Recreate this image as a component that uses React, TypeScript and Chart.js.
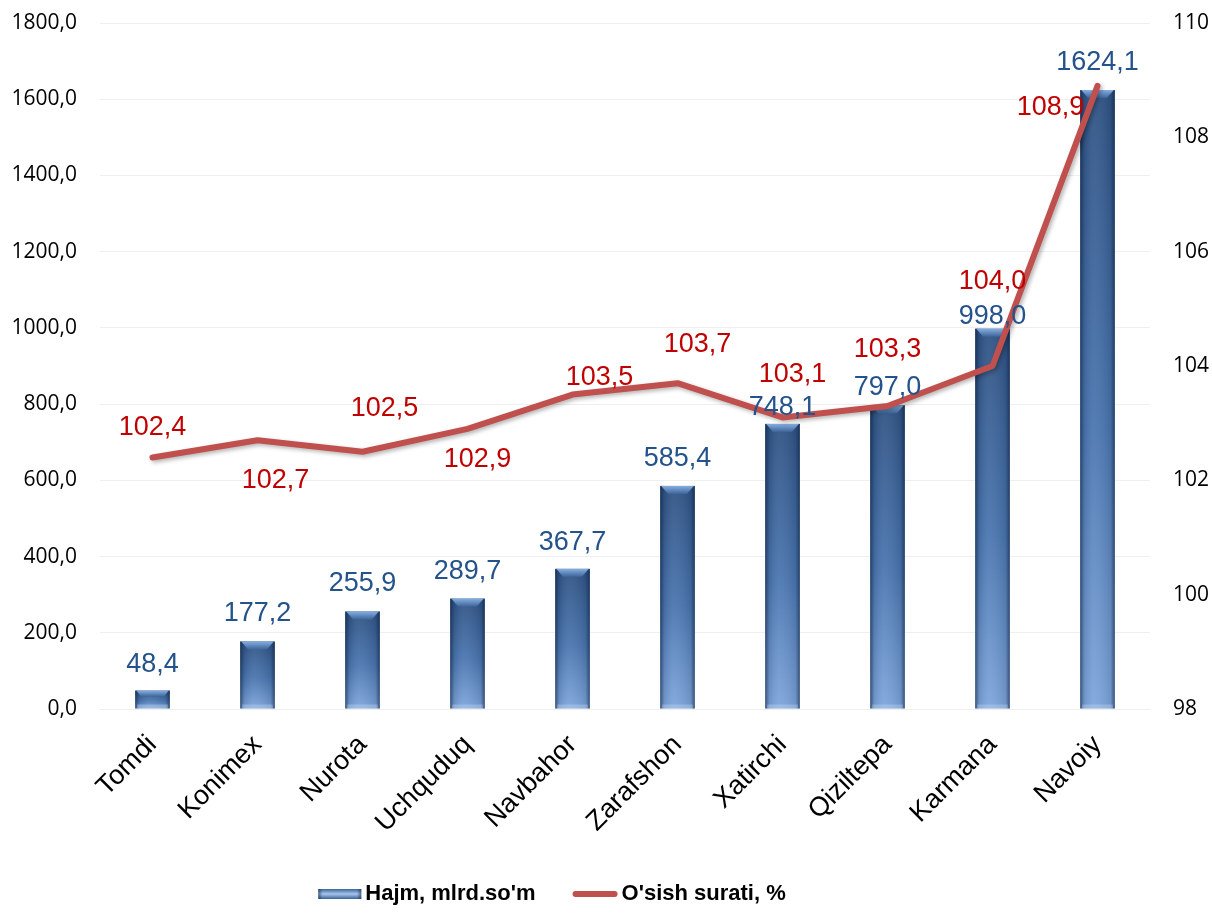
import React, { useEffect, useRef } from 'react';
import { Chart, registerables } from 'chart.js';

Chart.register(...registerables);

const categories = ['Tomdi', 'Konimex', 'Nurota', 'Uchquduq', 'Navbahor', 'Zarafshon', 'Xatirchi', 'Qiziltepa', 'Karmana', 'Navoiy'];
const volumeValues = [48.4, 177.2, 255.9, 289.7, 367.7, 585.4, 748.1, 797.0, 998.0, 1624.1];
const growthValues = [102.4, 102.7, 102.5, 102.9, 103.5, 103.7, 103.1, 103.3, 104.0, 108.9];
const seriesNames = ["Hajm, mlrd.so'm", "O'sish surati, %"];
const leftAxisRange = [0, 1800, 200];
const rightAxisRange = [98, 110, 2];

// label placement (pixel offsets from the mark)
const barLabelDy = [-26, -28, -28, -27, -26, -27, -16, -18, -12, -27];
const lineLabelOffsets = [[0, -30], [18, 40], [22, -43], [10, 31], [27, -17], [20, -39], [10, -43], [0, -56], [0, -84], [-47, 22]];

const fmt1 = (v: number) => v.toFixed(1).replace('.', ',');
const SANS = '"Liberation Sans", Arial, sans-serif';

function drawBar(ctx: CanvasRenderingContext2D, left: number, top: number, right: number, bottom: number) {
  const w = right - left;
  const h = bottom - top;
  if (h <= 0) return;
  ctx.save();
  const vg = ctx.createLinearGradient(0, top, 0, bottom);
  vg.addColorStop(0, '#2E5283');
  vg.addColorStop(0.55, '#4A76B0');
  vg.addColorStop(1, '#7EA6DC');
  ctx.fillStyle = vg;
  ctx.fillRect(left, top, w, h);
  const hg = ctx.createLinearGradient(left, 0, right, 0);
  hg.addColorStop(0, 'rgba(12,28,55,0.6)');
  hg.addColorStop(0.12, 'rgba(12,28,55,0.12)');
  hg.addColorStop(0.4, 'rgba(255,255,255,0.06)');
  hg.addColorStop(0.88, 'rgba(12,28,55,0.12)');
  hg.addColorStop(1, 'rgba(12,28,55,0.6)');
  ctx.fillStyle = hg;
  ctx.fillRect(left, top, w, h);
  const b = Math.min(8, h / 3);
  const bg = ctx.createLinearGradient(0, top, 0, top + b);
  bg.addColorStop(0, '#86AEE0');
  bg.addColorStop(1, '#3E659A');
  ctx.fillStyle = bg;
  ctx.beginPath();
  ctx.moveTo(left + 1, top);
  ctx.lineTo(right - 1, top);
  ctx.lineTo(right - b, top + b);
  ctx.lineTo(left + b, top + b);
  ctx.closePath();
  ctx.fill();
  const rb = Math.min(4, h / 4);
  ctx.fillStyle = 'rgba(200,220,245,0.35)';
  ctx.fillRect(left + 2, bottom - rb, w - 4, rb);
  ctx.restore();
}

const customPlugin = {
  id: 'customDraw',
  beforeDatasetDraw(chart: any, args: any) {
    const ctx = chart.ctx;
    if (args.index === 0) {
      const meta = chart.getDatasetMeta(0);
      meta.data.forEach((el: any) => {
        drawBar(ctx, el.x - el.width / 2, el.y, el.x + el.width / 2, el.base);
      });
      return false;
    }
    if (args.index === 1) {
      ctx.save();
      ctx.shadowColor = 'rgba(0,0,0,0.3)';
      ctx.shadowBlur = 4;
      ctx.shadowOffsetX = 2;
      ctx.shadowOffsetY = 2;
    }
    return true;
  },
  afterDatasetDraw(chart: any, args: any) {
    if (args.index === 1) chart.ctx.restore();
  },
  afterDatasetsDraw(chart: any) {
    const ctx = chart.ctx;
    ctx.save();
    ctx.textAlign = 'center';
    ctx.textBaseline = 'middle';
    ctx.font = `27px ${SANS}`;
    const lineMeta = chart.getDatasetMeta(1);
    ctx.fillStyle = '#C00000';
    lineMeta.data.forEach((el: any, i: number) => {
      const [dx, dy] = lineLabelOffsets[i];
      ctx.fillText(fmt1(growthValues[i]), el.x + dx, el.y + dy);
    });
    const barMeta = chart.getDatasetMeta(0);
    ctx.fillStyle = '#24528A';
    barMeta.data.forEach((el: any, i: number) => {
      ctx.fillText(fmt1(volumeValues[i]), el.x, el.y + barLabelDy[i]);
    });
    ctx.restore();
  },
  afterDraw(chart: any) {
    const ctx = chart.ctx;
    ctx.save();
    ctx.font = `bold 22px ${SANS}`;
    ctx.textBaseline = 'middle';
    ctx.textAlign = 'left';
    const w1 = ctx.measureText(seriesNames[0]).width;
    const w2 = ctx.measureText(seriesNames[1]).width;
    const boxW = 43, lineW = 45, gap = 4, between = 37;
    const total = boxW + gap + w1 + between + lineW + gap + w2;
    let x = chart.width / 2 - 54 - total / 2;
    const cy = chart.height - 21;
    const g = ctx.createLinearGradient(0, cy - 5, 0, cy + 5);
    g.addColorStop(0, '#3C6498');
    g.addColorStop(0.5, '#A6C6EC');
    g.addColorStop(1, '#3A6096');
    ctx.fillStyle = g;
    ctx.fillRect(x, cy - 5, boxW, 10);
    const hg = ctx.createLinearGradient(x, 0, x + boxW, 0);
    hg.addColorStop(0, 'rgba(20,40,70,0.6)');
    hg.addColorStop(0.1, 'rgba(20,40,70,0)');
    hg.addColorStop(0.9, 'rgba(20,40,70,0)');
    hg.addColorStop(1, 'rgba(20,40,70,0.6)');
    ctx.fillStyle = hg;
    ctx.fillRect(x, cy - 5, boxW, 10);
    x += boxW + gap;
    ctx.fillStyle = '#000000';
    ctx.fillText(seriesNames[0], x, cy);
    x += w1 + between;
    ctx.strokeStyle = '#C0504D';
    ctx.lineWidth = 6;
    ctx.lineCap = 'round';
    ctx.beginPath();
    ctx.moveTo(x + 3, cy);
    ctx.lineTo(x + lineW - 3, cy);
    ctx.stroke();
    x += lineW + gap;
    ctx.fillStyle = '#000000';
    ctx.fillText(seriesNames[1], x, cy);
    ctx.restore();
  },
};

export default function App() {
  const canvasRef = useRef<HTMLCanvasElement | null>(null);
  useEffect(() => {
    if (!canvasRef.current) return;
    const chart = new Chart(canvasRef.current, {
      type: 'bar',
      data: {
        labels: categories,
        datasets: [
          {
            type: 'bar',
            label: seriesNames[0],
            data: volumeValues,
            backgroundColor: '#4A76B0',
            yAxisID: 'y',
            order: 2,
            barPercentage: 0.33,
            categoryPercentage: 1,
          },
          {
            type: 'line',
            label: seriesNames[1],
            data: growthValues,
            borderColor: '#C0504D',
            backgroundColor: '#C0504D',
            borderWidth: 6,
            pointRadius: 0,
            tension: 0,
            borderCapStyle: 'round',
            borderJoinStyle: 'round',
            yAxisID: 'y2',
            order: 1,
          } as any,
        ],
      },
      options: {
        animation: false,
        responsive: false,
        maintainAspectRatio: false,
        layout: { padding: { top: 23, left: 0, right: 0, bottom: 60 } },
        plugins: {
          legend: { display: false },
          tooltip: { enabled: false },
        },
        scales: {
          x: {
            grid: { display: false, drawTicks: false },
            border: { display: false },
            ticks: {
              maxRotation: 45,
              minRotation: 45,
              autoSkip: false,
              padding: 20,
              color: '#000000',
              font: { family: SANS, size: 27 },
            },
            afterFit: (s: any) => { s.height = 146; s.paddingLeft = 0; s.paddingRight = 0; },
          },
          y: {
            position: 'left',
            min: leftAxisRange[0],
            max: leftAxisRange[1],
            grid: { color: '#EFEFEF', lineWidth: 1, drawTicks: false },
            border: { display: false },
            ticks: {
              stepSize: leftAxisRange[2],
              padding: 23,
              color: '#000000',
              font: { family: '"Open Sans", sans-serif', size: 21 },
              callback: (v: any) => fmt1(Number(v)),
            },
            afterFit: (s: any) => { s.width = 100; s.paddingTop = 0; s.paddingBottom = 0; },
          },
          y2: {
            position: 'right',
            min: rightAxisRange[0],
            max: rightAxisRange[1],
            grid: { display: false, drawTicks: false },
            border: { display: false },
            ticks: {
              stepSize: rightAxisRange[2],
              padding: 23,
              color: '#000000',
              font: { family: '"Open Sans", sans-serif', size: 21 },
              callback: (v: any) => String(v),
            },
            afterFit: (s: any) => { s.width = 62; s.paddingTop = 0; s.paddingBottom = 0; },
          },
        },
      },
      plugins: [customPlugin],
    });
    return () => chart.destroy();
  }, []);
  return (
    <div style={{ position: 'fixed', left: 0, top: 0, width: 1212, height: 915, background: '#fff' }}>
      <canvas ref={canvasRef} width={1212} height={915} style={{ width: 1212, height: 915, display: 'block' }} />
    </div>
  );
}
